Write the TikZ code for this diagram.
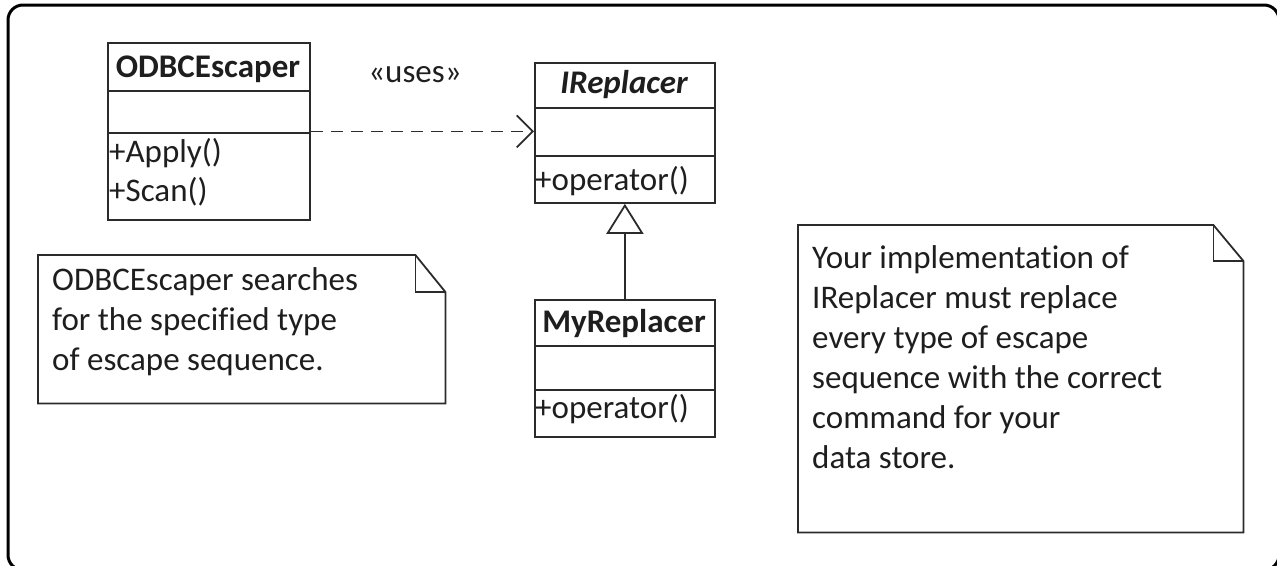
\documentclass[tikz,border=0pt]{standalone}
\usepackage{fontspec}
\setmainfont{Carlito}[Ligatures=NoCommon]
\usetikzlibrary{arrows.meta,calc}
\definecolor{ink}{HTML}{1E1E1E}
\definecolor{edge}{HTML}{2B2B2B}
\begin{document}
\begin{tikzpicture}[x=1pt,y=-1pt,
  every node/.style={inner sep=0pt, text=ink},
  txt/.style={font=\fontsize{33}{40}\selectfont},
  classbox/.style={draw=edge, line width=1.8pt, anchor=north west},
  divider/.style={draw=edge, line width=1.8pt},
  classname/.style={txt, font=\fontsize{33}{40}\selectfont\bfseries, anchor=base},
  member/.style={txt, anchor=base west},
  notetext/.style={txt, align=left, anchor=base west},
  noteline/.style={draw=edge, line width=1.8pt, line join=miter},
  uses/.style={draw=edge, line width=1.8pt, dash pattern=on 12pt off 8pt,
    -{Straight Barb[length=16pt, width=32pt, line width=1.8pt]}},
  inherit/.style={draw=edge, line width=1.8pt,
    -{Triangle[open, length=30pt, width=37pt, line width=1.8pt]}},
]
\useasboundingbox (0,0) rectangle (1277,565);
\clip (0,0) rectangle (1277,565);

% outer frame
\draw[line width=3pt, rounded corners=15pt] (8,5) rectangle (1279,570);

% class ODBCEscaper
\node[classbox, minimum width=202pt, minimum height=177pt] (odbc) at (107,42) {};
\draw[divider] (odbc.west |- 0,91) -- (odbc.east |- 0,91);
\draw[divider] (odbc.west |- 0,133) -- (odbc.east |- 0,133);
\node[classname] (odbcname) at (208,77) {ODBCEscaper};
\node[member] (odbcapply) at (109,162) {+Apply()};
\node[member] (odbcscan) at (109,201) {+Scan()};

% interface IReplacer
\node[classbox, minimum width=180pt, minimum height=140pt] (irep) at (534,62) {};
\draw[divider] (irep.west |- 0,108) -- (irep.east |- 0,108);
\draw[divider] (irep.west |- 0,156) -- (irep.east |- 0,156);
\node[classname, font=\fontsize{33}{40}\selectfont\bfseries\itshape] (irepname) at (624,93) {IReplacer};
\node[member] (irepop) at (535,190) {+operator()};

% class MyReplacer
\node[classbox, minimum width=180pt, minimum height=137pt] (myrep) at (534,299) {};
\draw[divider] (myrep.west |- 0,346) -- (myrep.east |- 0,346);
\draw[divider] (myrep.west |- 0,390) -- (myrep.east |- 0,390);
\node[classname] (myrepname) at (624,332) {MyReplacer};
\node[member] (myrepop) at (535,418) {+operator()};

% relations
\draw[uses] (odbc.east) -- (odbc.east -| irep.west);
\node[txt, anchor=base] (useslabel) at (415,82) {«uses»};
\draw[inherit] (myrep.north) -- (irep.south);

% note on ODBCEscaper (multi-line text is placed by its last baseline)
\node[anchor=north west, minimum width=407pt, minimum height=148pt] (noteleft) at (38,255) {};
\draw[noteline] (noteleft.north west) -- ($(noteleft.north east)+(-30,0)$)
  -- ($(noteleft.north east)+(0,37)$) -- (noteleft.south east)
  -- (noteleft.south west) -- cycle;
\draw[noteline] ($(noteleft.north east)+(-30,0)$) -- ($(noteleft.north east)+(-30,37)$)
  -- ($(noteleft.north east)+(0,37)$);
\node[notetext] (notelefttext) at (52,370) {ODBCEscaper searches\\for the specified type\\of escape sequence.};

% note on IReplacer implementations
\node[anchor=north west, minimum width=445pt, minimum height=307pt] (noteright) at (798,225) {};
\draw[noteline] (noteright.north west) -- ($(noteright.north east)+(-30,0)$)
  -- ($(noteright.north east)+(0,36)$) -- (noteright.south east)
  -- (noteright.south west) -- cycle;
\draw[noteline] ($(noteright.north east)+(-30,0)$) -- ($(noteright.north east)+(-30,36)$)
  -- ($(noteright.north east)+(0,36)$);
\node[notetext] (noterighttext) at (812,468) {Your implementation of\\IReplacer must replace\\every type of escape\\sequence with the correct\\command for your\\data store.};
\end{tikzpicture}
\end{document}
